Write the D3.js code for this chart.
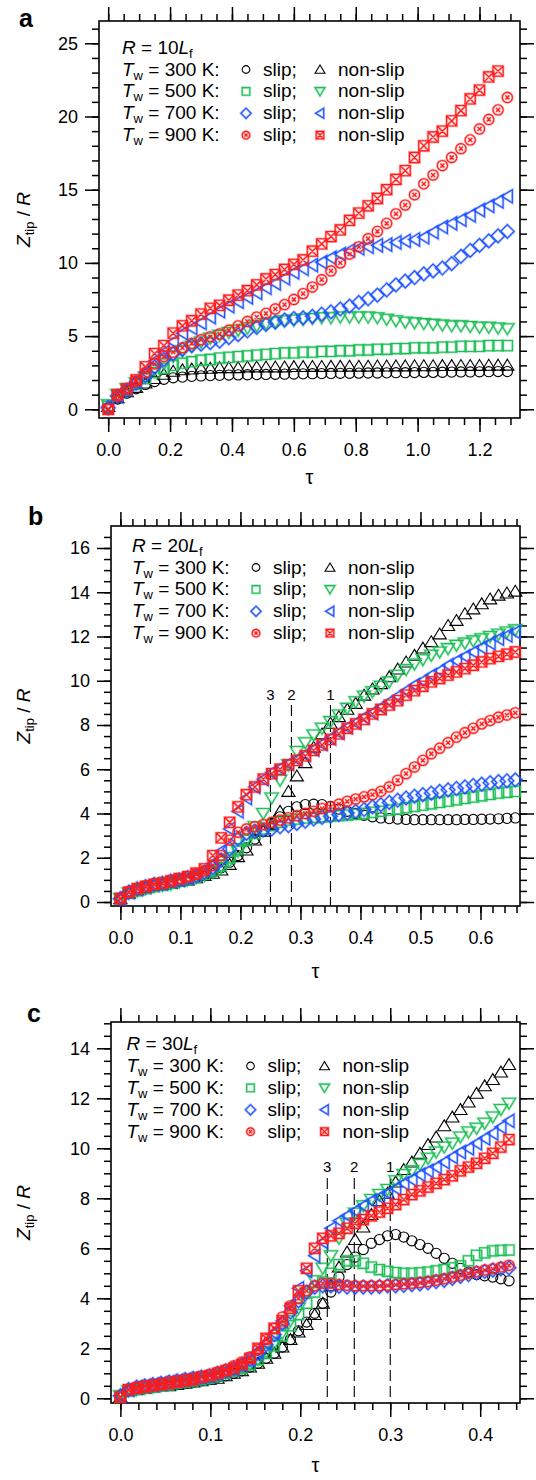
<!DOCTYPE html>
<html>
<head>
<meta charset="utf-8">
<script src="https://cdn.jsdelivr.net/npm/d3@7"></script>
<style>
  body { margin: 0; background: #fff; }
  text { font-family: "Liberation Sans", Arial, Helvetica, sans-serif; fill: #000; }
</style>
</head>
<body>
<div id="chart"></div>
<script>
// script for the Ztip/R against tau figure (three panels, R = 10, 20, 30 Lf)

var wallTemps = ["300", "500", "700", "900"];

// ---- panel a : R = 10 Lf ----
var xTicksA = [0, 0.2, 0.4, 0.6, 0.8, 1.0, 1.2];
var yTicksA = [0, 5, 10, 15, 20, 25];
var tauA = [0, 0.03, 0.06, 0.09, 0.12, 0.15, 0.18, 0.21, 0.24, 0.27, 0.30, 0.33, 0.36, 0.39, 0.42, 0.45, 0.48, 0.51, 0.54, 0.57,
            0.60, 0.63, 0.66, 0.69, 0.72, 0.75, 0.78, 0.81, 0.84, 0.87, 0.90, 0.93, 0.96, 0.99, 1.02, 1.05, 1.08, 1.11, 1.14, 1.17,
            1.20, 1.23, 1.26, 1.29];
var aSlip300 = [0.1, 0.7, 1.1, 1.4, 1.7, 1.9, 2.05, 2.15, 2.2, 2.25, 2.28, 2.3, 2.32, 2.34, 2.35, 2.36, 2.37, 2.38, 2.39, 2.4,
                2.41, 2.42, 2.43, 2.44, 2.45, 2.46, 2.46, 2.47, 2.48, 2.48, 2.49, 2.5, 2.5, 2.51, 2.52, 2.52, 2.53, 2.54, 2.55, 2.55,
                2.56, 2.57, 2.58, 2.58];
var aNon300 = [0.2, 0.8, 1.2, 1.5, 1.8, 2.1, 2.4, 2.6, 2.7, 2.75, 2.8, 2.8, 2.85, 2.85, 2.85, 2.9, 2.9, 2.9, 2.9, 2.9,
               2.92, 2.92, 2.93, 2.93, 2.94, 2.94, 2.95, 2.95, 2.95, 2.96, 2.96, 2.97, 2.97, 2.98, 2.98, 2.98, 2.99, 2.99, 3.0, 3.0,
               3.0, 3.01, 3.02, 3.02];
var aSlip500 = [0.2, 0.9, 1.3, 1.7, 2.1, 2.5, 2.8, 3.0, 3.15, 3.25, 3.35, 3.4, 3.5, 3.55, 3.6, 3.65, 3.7, 3.75, 3.8, 3.85,
                3.85, 3.9, 3.9, 3.95, 3.95, 4.0, 4.0, 4.05, 4.05, 4.1, 4.1, 4.15, 4.15, 4.2, 4.2, 4.2, 4.25, 4.25, 4.3, 4.3,
                4.3, 4.35, 4.35, 4.35];
var aNon500 = [0.3, 1.0, 1.4, 1.8, 2.2, 2.7, 3.1, 3.6, 4.0, 4.3, 4.6, 4.85, 5.05, 5.25, 5.4, 5.55, 5.7, 5.85, 5.95, 6.05,
               6.1, 6.15, 6.2, 6.25, 6.25, 6.3, 6.3, 6.3, 6.3, 6.25, 6.15, 6.05, 5.95, 5.9, 5.85, 5.8, 5.75, 5.7, 5.7, 5.65,
               5.6, 5.6, 5.55, 5.5];
var aSlip700 = [0.1, 0.9, 1.3, 1.8, 2.3, 2.9, 3.4, 3.8, 4.1, 4.35, 4.45, 4.55, 4.65, 4.9, 5.1, 5.35, 5.6, 5.8, 5.95, 6.1,
                6.2, 6.25, 6.35, 6.5, 6.65, 6.85, 7.05, 7.3, 7.55, 7.8, 8.15, 8.5, 8.75, 9.0, 9.25, 9.45, 9.65, 9.95, 10.45, 10.85,
                11.2, 11.5, 11.85, 12.15];
var aNon700 = [0.2, 0.9, 1.4, 1.9, 2.5, 3.3, 3.9, 4.6, 5.2, 5.55, 5.9, 6.3, 6.7, 7.05, 7.35, 7.65, 7.95, 8.3, 8.6, 8.95,
               9.35, 9.6, 9.85, 10.05, 10.35, 10.6, 10.85, 11.0, 11.1, 11.2, 11.25, 11.4, 11.5, 11.6, 11.75, 12.1, 12.45, 12.7, 12.95, 13.25,
               13.6, 13.9, 14.2, 14.55];
var aSlip900 = [0, 0.9, 1.4, 1.9, 2.5, 3.1, 3.6, 3.9, 4.2, 4.5, 4.75, 4.95, 5.15, 5.4, 5.7, 6.0, 6.3, 6.55, 6.85, 7.15,
                7.5, 7.9, 8.35, 8.85, 9.45, 10.0, 10.6, 11.1, 11.65, 12.15, 12.7, 13.35, 13.95, 14.65, 15.4, 16.0, 16.65, 17.2, 17.8, 18.4,
                19.15, 19.8, 20.45, 21.3];
var aNon900 = [0, 1.0, 1.4, 2.0, 2.9, 3.8, 4.35, 5.2, 5.7, 6.05, 6.5, 6.9, 7.1, 7.45, 7.8, 8.1, 8.5, 8.9, 9.2, 9.55,
               9.9, 10.2, 10.8, 11.3, 11.8, 12.25, 12.9, 13.4, 13.9, 14.4, 15.0, 15.7, 16.3, 17.2, 18.0, 18.6, 19.0, 19.7, 20.4, 21.2,
               21.8, 22.7, 23.1];

// ---- panel b : R = 20 Lf ----
var xTicksB = [0, 0.1, 0.2, 0.3, 0.4, 0.5, 0.6];
var yTicksB = [0, 2, 4, 6, 8, 10, 12, 14, 16];
var dashB = [0.25, 0.285, 0.35];
var dashLabelsB = ["3", "2", "1"];
var tauB = [0, 0.014, 0.028, 0.042, 0.056, 0.07, 0.084, 0.098, 0.112, 0.126, 0.14, 0.154, 0.168, 0.182, 0.196, 0.21,
            0.224, 0.238, 0.252, 0.266, 0.28, 0.294, 0.308, 0.322, 0.336, 0.35, 0.364, 0.378, 0.392, 0.406, 0.42, 0.434,
            0.448, 0.462, 0.476, 0.49, 0.504, 0.518, 0.532, 0.546, 0.56, 0.574, 0.588, 0.602, 0.616, 0.63, 0.644, 0.658];
var bSlip300 = [0.15, 0.4, 0.55, 0.65, 0.75, 0.8, 0.85, 0.95, 1.0, 1.1, 1.2, 1.35, 1.55, 1.8, 2.1, 2.45,
                2.85, 3.2, 3.55, 3.85, 4.1, 4.3, 4.4, 4.42, 4.4, 4.32, 4.2, 4.1, 4.0, 3.92, 3.85, 3.8,
                3.77, 3.75, 3.73, 3.72, 3.72, 3.72, 3.72, 3.72, 3.72, 3.73, 3.73, 3.74, 3.75, 3.76, 3.78, 3.8];
var bNon300 = [0.15, 0.4, 0.55, 0.65, 0.75, 0.8, 0.85, 0.95, 1.0, 1.1, 1.2, 1.3, 1.45, 1.7, 2.05, 2.35,
               2.8, 3.2, 3.5, 4.1, 5.0, 5.7, 6.3, 7.0, 7.6, 8.08, 8.38, 8.71, 8.98, 9.35, 9.63, 9.87,
               10.18, 10.53, 10.85, 11.15, 11.48, 11.77, 12.12, 12.5, 12.73, 13.03, 13.25, 13.48, 13.7, 13.87, 13.97, 14.05];
var bSlip500 = [0.15, 0.4, 0.5, 0.6, 0.7, 0.75, 0.85, 0.95, 1.0, 1.1, 1.25, 1.4, 1.65, 2.0, 2.4, 2.8,
                3.1, 3.3, 3.45, 3.6, 3.7, 3.75, 3.8, 3.82, 3.85, 3.88, 3.9, 3.93, 3.96, 4.0, 4.05, 4.1,
                4.15, 4.2, 4.26, 4.32, 4.38, 4.44, 4.5, 4.56, 4.62, 4.68, 4.74, 4.8, 4.86, 4.92, 4.96, 5.0];
var bNon500 = [0.15, 0.4, 0.5, 0.6, 0.7, 0.75, 0.8, 0.9, 1.0, 1.1, 1.2, 1.35, 1.55, 1.85, 2.3, 2.8,
               3.4, 4.0, 4.7, 5.5, 6.2, 6.8, 7.2, 7.55, 7.85, 8.15, 8.45, 8.75, 9.05, 9.3, 9.5, 9.75,
               9.95, 10.25, 10.5, 10.75, 10.95, 11.15, 11.3, 11.45, 11.6, 11.7, 11.8, 11.9, 12.0, 12.1, 12.2, 12.3];
var bSlip700 = [0.15, 0.45, 0.6, 0.7, 0.8, 0.85, 0.95, 1.0, 1.1, 1.2, 1.35, 1.55, 1.9, 2.4, 2.85, 3.1,
                3.2, 3.25, 3.3, 3.4, 3.45, 3.55, 3.65, 3.75, 3.82, 3.88, 3.95, 4.02, 4.1, 4.18, 4.3, 4.4,
                4.5, 4.6, 4.7, 4.78, 4.85, 4.92, 5.0, 5.07, 5.13, 5.2, 5.27, 5.33, 5.39, 5.44, 5.48, 5.52];
var bNon700 = [0.15, 0.45, 0.6, 0.7, 0.8, 0.85, 0.95, 1.0, 1.1, 1.25, 1.45, 1.75, 2.3, 3.3, 4.1, 4.7,
               5.2, 5.55, 5.85, 6.05, 6.25, 6.45, 6.65, 6.9, 7.15, 7.4, 7.65, 7.9, 8.1, 8.35, 8.55, 8.8,
               9.05, 9.3, 9.55, 9.8, 10.0, 10.25, 10.45, 10.7, 10.9, 11.1, 11.3, 11.5, 11.7, 11.9, 12.05, 12.2];
var bSlip900 = [0.15, 0.45, 0.6, 0.7, 0.8, 0.85, 0.95, 1.05, 1.15, 1.25, 1.4, 1.65, 2.1, 2.8, 3.15, 3.3,
                3.4, 3.5, 3.6, 3.7, 3.8, 3.9, 4.0, 4.1, 4.22, 4.3, 4.42, 4.55, 4.65, 4.75, 4.85, 5.0,
                5.2, 5.5, 5.8, 6.1, 6.4, 6.7, 6.95, 7.2, 7.45, 7.65, 7.85, 8.05, 8.2, 8.35, 8.45, 8.55];
var bNon900 = [0.15, 0.45, 0.6, 0.7, 0.8, 0.85, 0.95, 1.05, 1.15, 1.3, 1.5, 2.1, 2.9, 3.6, 4.3, 4.85,
               5.2, 5.55, 5.8, 6.0, 6.2, 6.4, 6.6, 6.85, 7.1, 7.35, 7.6, 7.85, 8.05, 8.25, 8.5, 8.7,
               8.9, 9.1, 9.35, 9.55, 9.75, 9.95, 10.1, 10.25, 10.4, 10.55, 10.7, 10.85, 11.0, 11.1, 11.2, 11.3];

// ---- panel c : R = 30 Lf ----
var xTicksC = [0, 0.1, 0.2, 0.3, 0.4];
var yTicksC = [0, 2, 4, 6, 8, 10, 12, 14];
var dashC = [0.23, 0.26, 0.30];
var dashLabelsC = ["3", "2", "1"];
var tauC = [0, 0.009, 0.018, 0.027, 0.036, 0.045, 0.054, 0.063, 0.072, 0.081, 0.09, 0.099, 0.108, 0.117, 0.126, 0.135,
            0.144, 0.153, 0.162, 0.171, 0.18, 0.189, 0.198, 0.207, 0.216, 0.225, 0.234, 0.243, 0.252, 0.261, 0.27, 0.279,
            0.288, 0.297, 0.306, 0.315, 0.324, 0.333, 0.342, 0.351, 0.36, 0.369, 0.378, 0.387, 0.396, 0.405, 0.414, 0.423, 0.432];
var cSlip300 = [0.05, 0.3, 0.35, 0.4, 0.45, 0.5, 0.55, 0.55, 0.6, 0.65, 0.7, 0.75, 0.85, 0.9, 1.0, 1.1,
                1.25, 1.4, 1.6, 1.8, 2.05, 2.35, 2.7, 3.05, 3.4, 3.8, 4.25, 4.85, 5.35, 5.65, 5.95, 6.2,
                6.35, 6.5, 6.55, 6.45, 6.3, 6.15, 6.0, 5.8, 5.6, 5.4, 5.2, 5.05, 4.95, 4.9, 4.85, 4.78, 4.7];
var cNon300 = [0.05, 0.3, 0.35, 0.4, 0.45, 0.5, 0.5, 0.55, 0.6, 0.65, 0.7, 0.75, 0.8, 0.9, 1.0, 1.1,
               1.25, 1.4, 1.6, 1.8, 2.05, 2.35, 2.65, 2.95, 3.35, 3.8, 4.5, 5.25, 5.85, 6.35, 6.85, 7.35,
               7.9, 8.2, 8.65, 9.15, 9.45, 9.8, 10.15, 10.45, 10.9, 11.25, 11.55, 11.85, 12.2, 12.5, 12.75, 13.05, 13.35];
var cSlip500 = [0.05, 0.3, 0.35, 0.4, 0.45, 0.5, 0.55, 0.6, 0.65, 0.7, 0.75, 0.8, 0.9, 1.0, 1.1, 1.2,
                1.35, 1.55, 1.8, 2.1, 2.5, 2.9, 3.35, 3.8, 4.25, 4.65, 5.0, 5.35, 5.5, 5.5, 5.4, 5.25,
                5.15, 5.08, 5.03, 5.0, 5.0, 5.02, 5.05, 5.1, 5.15, 5.22, 5.3, 5.5, 5.72, 5.82, 5.9, 5.92, 5.93];
var cNon500 = [0.1, 0.3, 0.35, 0.4, 0.45, 0.5, 0.55, 0.6, 0.65, 0.7, 0.75, 0.8, 0.9, 1.0, 1.1, 1.2,
               1.35, 1.55, 1.85, 2.2, 2.6, 3.1, 3.6, 4.2, 4.7, 5.2, 5.7, 6.4, 7.0, 7.4, 7.7, 7.95,
               8.15, 8.35, 8.7, 8.95, 9.1, 9.35, 9.6, 9.85, 10.05, 10.2, 10.45, 10.65, 10.8, 11.0, 11.25, 11.55, 11.8];
var cSlip700 = [0.1, 0.35, 0.45, 0.5, 0.55, 0.6, 0.65, 0.7, 0.75, 0.8, 0.85, 0.9, 1.0, 1.1, 1.2, 1.35,
                1.55, 1.8, 2.15, 2.55, 3.0, 3.45, 3.9, 4.25, 4.45, 4.5, 4.5, 4.48, 4.45, 4.45, 4.45, 4.45,
                4.47, 4.5, 4.5, 4.52, 4.55, 4.58, 4.62, 4.67, 4.72, 4.8, 4.88, 4.95, 5.02, 5.08, 5.13, 5.18, 5.22];
var cNon700 = [0.1, 0.35, 0.45, 0.5, 0.55, 0.6, 0.65, 0.7, 0.75, 0.8, 0.85, 0.9, 1.0, 1.1, 1.2, 1.35,
               1.55, 1.85, 2.2, 2.6, 3.1, 3.7, 4.4, 5.1, 5.7, 6.25, 6.8, 7.1, 7.3, 7.5, 7.7, 7.9,
               8.05, 8.2, 8.4, 8.6, 8.75, 8.95, 9.1, 9.25, 9.45, 9.65, 9.85, 10.0, 10.2, 10.4, 10.6, 10.85, 11.1];
var cSlip900 = [0.05, 0.35, 0.45, 0.5, 0.55, 0.6, 0.65, 0.7, 0.75, 0.8, 0.85, 0.95, 1.05, 1.15, 1.3, 1.45,
                1.65, 1.95, 2.35, 2.8, 3.25, 3.7, 4.0, 4.3, 4.5, 4.6, 4.6, 4.55, 4.52, 4.5, 4.5, 4.5,
                4.5, 4.52, 4.55, 4.58, 4.6, 4.63, 4.67, 4.72, 4.78, 4.85, 4.92, 5.0, 5.07, 5.13, 5.18, 5.25, 5.32];
var cNon900 = [0.05, 0.35, 0.4, 0.45, 0.5, 0.55, 0.6, 0.65, 0.7, 0.75, 0.85, 0.9, 1.0, 1.1, 1.2, 1.35,
               1.6, 2.0, 2.4, 2.8, 3.1, 3.6, 4.3, 5.2, 6.0, 6.4, 6.5, 6.6, 6.8, 7.0, 7.15, 7.3,
               7.45, 7.6, 7.75, 7.95, 8.15, 8.3, 8.45, 8.6, 8.75, 8.9, 9.1, 9.25, 9.4, 9.6, 9.8, 10.05, 10.35];


// marker style for each of the 8 series (slip / non-slip for each wall temperature)
var seriesStyle = [
  {shape: "circle",  color: "#000000"},
  {shape: "triUp",   color: "#000000"},
  {shape: "square",  color: "#1fbe58"},
  {shape: "triDown", color: "#1fbe58"},
  {shape: "diamond", color: "#1f52ff"},
  {shape: "triLeft", color: "#1f52ff"},
  {shape: "circleX", color: "#ff1c1c"},
  {shape: "squareX", color: "#ff1c1c"}
];

var panels = [
  { letter: "a", rText: "10", tau: tauA,
    series: [aSlip300, aNon300, aSlip500, aNon500, aSlip700, aNon700, aSlip900, aNon900],
    box: {left: 99, top: 21, right: 520, bottom: 418},
    xDom: [0, 1.2], xPix: [108.2, 479.5], yDom: [0, 25], yPix: [409.3, 43.3],
    xMajor: xTicksA, xMinor: 0.05, yMajor: yTicksA, yMinor: 1, yFmt: "d",
    letterPos: [19, 27], legendPos: [122, 53.5], tauY: 484,
    dashes: [], dashLabels: [], dashTop: 0, dashLabelY: 0 },
  { letter: "b", rText: "20", tau: tauB,
    series: [bSlip300, bNon300, bSlip500, bNon500, bSlip700, bNon700, bSlip900, bNon900],
    box: {left: 111, top: 526, right: 520, bottom: 906},
    xDom: [0, 0.6], xPix: [120.4, 480.5], yDom: [0, 16], yPix: [902, 548],
    xMajor: xTicksB, xMinor: 0.02, yMajor: yTicksB, yMinor: 0.5, yFmt: "d",
    letterPos: [28, 525], legendPos: [132, 551.5], tauY: 978,
    dashes: dashB, dashLabels: dashLabelsB, dashTop: 705, dashLabelY: 700 },
  { letter: "c", rText: "30", tau: tauC,
    series: [cSlip300, cNon300, cSlip500, cNon500, cSlip700, cNon700, cSlip900, cNon900],
    box: {left: 111, top: 1022, right: 520, bottom: 1403},
    xDom: [0, 0.4], xPix: [120.4, 480.2], yDom: [0, 14], yPix: [1398.3, 1048.3],
    xMajor: xTicksC, xMinor: 0.02, yMajor: yTicksC, yMinor: 0.5, yFmt: "d",
    letterPos: [27, 1022], legendPos: [126.5, 1050], tauY: 1472,
    dashes: dashC, dashLabels: dashLabelsC, dashTop: 1178, dashLabelY: 1172 }
];

var svg = d3.select("#chart").append("svg")
    .attr("width", 536)
    .attr("height", 1480);

var circ = function(r) {
  return "M" + r + ",0A" + r + "," + r + " 0 1,1 " + (-r) + ",0A" + r + "," + r + " 0 1,1 " + r + ",0Z";
};

// open marker outlines, k scales them down for the legend
var markerPath = function(shape, k) {
  var r = 5.1 * k, h = 5.9 * k, w = 6.6 * k, d = 6.8 * k, c = 2 * k;
  if (shape == "circle") return circ(r);
  if (shape == "circleX") return circ(r) + "M" + (-c) + "," + (-c) + "L" + c + "," + c + "M" + (-c) + "," + c + "L" + c + "," + (-c);
  if (shape == "square") return "M" + (-r) + "," + (-r) + "H" + r + "V" + r + "H" + (-r) + "Z";
  if (shape == "squareX") return "M" + (-r) + "," + (-r) + "H" + r + "V" + r + "H" + (-r) + "Z" +
                                 "M" + (-r) + "," + (-r) + "L" + r + "," + r + "M" + (-r) + "," + r + "L" + r + "," + (-r);
  if (shape == "triUp") return "M0," + (-h) + "L" + w + "," + (h * 0.85) + "L" + (-w) + "," + (h * 0.85) + "Z";
  if (shape == "triDown") return "M0," + h + "L" + w + "," + (-h * 0.85) + "L" + (-w) + "," + (-h * 0.85) + "Z";
  if (shape == "triLeft") return "M" + (-h) + ",0L" + (h * 0.85) + "," + (-w) + "L" + (h * 0.85) + "," + w + "Z";
  if (shape == "diamond") return "M0," + (-d) + "L" + d + ",0L0," + d + "L" + (-d) + ",0Z";
  return "";
}; // end markerPath

var drawMarker = function(g, style, k) {
  if (style.color != "#000000") {
    // faint wider halo, as the coloured markers look doubled in the original
    g.append("path")
        .attr("d", markerPath(style.shape, k))
        .attr("fill", "none")
        .attr("stroke", style.color)
        .attr("stroke-opacity", 0.35)
        .attr("stroke-width", 2.6);
  }
  g.append("path")
      .attr("d", markerPath(style.shape, k))
      .attr("fill", "none")
      .attr("stroke", style.color)
      .attr("stroke-width", 1.1);
}; // end drawMarker

var tickRange = function(lo, hi, step) {
  var out = [];
  for (var i = Math.ceil(lo / step - 1e-6); i <= Math.floor(hi / step + 1e-6); i++) out.push(+(i * step).toFixed(4));
  return out;
};

var styleTicks = function(g) {
  g.select(".domain").remove();
  g.selectAll(".tick line").attr("stroke", "#000").attr("stroke-width", 1.5);
  g.selectAll(".tick text").attr("font-size", 18).attr("fill", "#000")
      .attr("font-family", "'Liberation Sans', Arial, sans-serif");
};

panels.forEach(function(p) {
  var b = p.box;
  var x = d3.scaleLinear().domain(p.xDom).range(p.xPix);
  var y = d3.scaleLinear().domain(p.yDom).range(p.yPix);

  var xMinor = tickRange(x.invert(b.left + 1), x.invert(b.right - 1), p.xMinor);
  var yMinor = tickRange(y.invert(b.bottom - 1), y.invert(b.top + 1), p.yMinor);
  var xFmt = d3.format(".1f");

  // bottom axis, major with labels then minor
  svg.append("g").attr("transform", "translate(0," + b.bottom + ")")
      .call(d3.axisBottom(x).tickValues(p.xMajor).tickSize(14).tickPadding(11).tickFormat(xFmt))
      .call(styleTicks);
  svg.append("g").attr("transform", "translate(0," + b.bottom + ")")
      .call(d3.axisBottom(x).tickValues(xMinor).tickSize(7).tickFormat(""))
      .call(styleTicks);
  // top axis, ticks only
  svg.append("g").attr("transform", "translate(0," + b.top + ")")
      .call(d3.axisTop(x).tickValues(p.xMajor).tickSize(14).tickFormat(""))
      .call(styleTicks);
  svg.append("g").attr("transform", "translate(0," + b.top + ")")
      .call(d3.axisTop(x).tickValues(xMinor).tickSize(7).tickFormat(""))
      .call(styleTicks);
  // left axis
  svg.append("g").attr("transform", "translate(" + b.left + ",0)")
      .call(d3.axisLeft(y).tickValues(p.yMajor).tickSize(14).tickPadding(7).tickFormat(d3.format(p.yFmt)))
      .call(styleTicks);
  svg.append("g").attr("transform", "translate(" + b.left + ",0)")
      .call(d3.axisLeft(y).tickValues(yMinor).tickSize(7).tickFormat(""))
      .call(styleTicks);
  // right axis
  svg.append("g").attr("transform", "translate(" + b.right + ",0)")
      .call(d3.axisRight(y).tickValues(p.yMajor).tickSize(14).tickFormat(""))
      .call(styleTicks);
  svg.append("g").attr("transform", "translate(" + b.right + ",0)")
      .call(d3.axisRight(y).tickValues(yMinor).tickSize(7).tickFormat(""))
      .call(styleTicks);

  // frame
  svg.append("rect")
      .attr("x", b.left).attr("y", b.top)
      .attr("width", b.right - b.left).attr("height", b.bottom - b.top)
      .attr("fill", "none").attr("stroke", "#000").attr("stroke-width", 1.6);

  // dashed marker lines 3, 2, 1
  p.dashes.forEach(function(v, i) {
    svg.append("line")
        .attr("x1", x(v)).attr("x2", x(v))
        .attr("y1", p.dashTop).attr("y2", b.bottom)
        .attr("stroke", "#000").attr("stroke-width", 1.1)
        .attr("stroke-dasharray", "11,5");
    svg.append("text")
        .attr("x", x(v)).attr("y", p.dashLabelY)
        .attr("text-anchor", "middle")
        .attr("font-size", 15)
        .text(p.dashLabels[i]);
  });

  // data markers
  p.series.forEach(function(vals, si) {
    var style = seriesStyle[si];
    var pts = vals.map(function(v, i) { return [p.tau[i], v]; });
    svg.append("g").selectAll("g")
        .data(pts)
        .enter()
        .append("g")
          .attr("transform", function(d) { return "translate(" + x(d[0]) + "," + y(d[1]) + ")"; })
          .each(function() { drawMarker(d3.select(this), style, 1); });
  });

  // legend
  var lg = svg.append("g").attr("transform", "translate(" + p.legendPos[0] + "," + p.legendPos[1] + ")");
  var rt = lg.append("text").attr("x", 0).attr("y", 0).attr("font-size", 19);
  rt.append("tspan").attr("font-style", "italic").text("R");
  rt.append("tspan").text(" = " + p.rText);
  rt.append("tspan").attr("font-style", "italic").text("L");
  rt.append("tspan").attr("font-size", 13).attr("dy", 4).text("f");

  wallTemps.forEach(function(t, i) {
    var yy = 22 + i * 21.9;
    var tt = lg.append("text").attr("x", 0).attr("y", yy).attr("font-size", 19);
    tt.append("tspan").attr("font-style", "italic").text("T");
    tt.append("tspan").attr("font-size", 13).attr("dy", 4).text("w");
    tt.append("tspan").attr("dy", -4).text(" = " + t + " K:");

    drawMarker(lg.append("g").attr("transform", "translate(124," + (yy - 6) + ")"), seriesStyle[2 * i], 0.75);
    lg.append("text").attr("x", 141).attr("y", yy).attr("font-size", 19).text("slip;");
    drawMarker(lg.append("g").attr("transform", "translate(198," + (yy - 6) + ")"), seriesStyle[2 * i + 1], 0.75);
    lg.append("text").attr("x", 216).attr("y", yy).attr("font-size", 19).text("non-slip");
  });

  // axis titles
  var cy = (b.top + b.bottom) / 2;
  var yt = svg.append("text")
      .attr("transform", "translate(30," + cy + ") rotate(-90)")
      .attr("text-anchor", "middle")
      .attr("font-size", 19);
  yt.append("tspan").attr("font-style", "italic").text("Z");
  yt.append("tspan").attr("font-size", 13).attr("dy", 4).text("tip");
  yt.append("tspan").attr("dy", -4).text(" / ");
  yt.append("tspan").attr("font-style", "italic").text("R");

  svg.append("text")
      .attr("x", (b.left + b.right) / 2).attr("y", p.tauY)
      .attr("text-anchor", "middle")
      .attr("font-size", 20)
      .text("τ");

  // panel letter
  svg.append("text")
      .attr("x", p.letterPos[0]).attr("y", p.letterPos[1])
      .attr("font-size", 25).attr("font-weight", "bold")
      .text(p.letter);
}); // end panels.forEach

</script>
</body>
</html>
